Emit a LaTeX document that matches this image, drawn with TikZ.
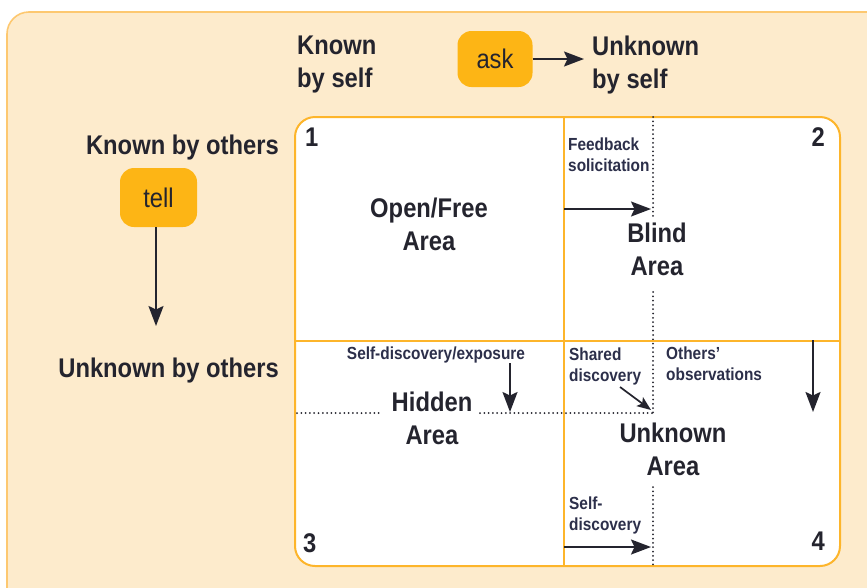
\documentclass[tikz,border=0pt]{standalone}
\usepackage{fontspec}
\setmainfont{Liberation Sans}[FakeStretch=0.88]
\usetikzlibrary{arrows.meta}
\definecolor{peach}{HTML}{FDEBCC}
\definecolor{outerline}{HTML}{FDC870}
\definecolor{gridline}{HTML}{FDB52B}
\definecolor{boxor}{HTML}{FDB515}
\definecolor{ink}{HTML}{24242E}
\definecolor{ink2}{HTML}{2C2F4A}
\newcommand\mybigf{\fontsize{27}{33}\selectfont\bfseries}
\newcommand\mysmallf{\fontsize{17.5}{21}\selectfont\bfseries}
\newcommand\myaskf{\fontsize{27}{33}\selectfont}
\begin{document}
\begin{tikzpicture}[x=1pt,y=-1pt,
  lab/.style={inner sep=0pt,text=ink,font=\mybigf,align=center},
  sidelab/.style={inner sep=0pt,text=ink,font=\mybigf},
  small/.style={inner sep=0pt,text=ink2,font=\mysmallf,align=left},
  arr/.style={draw=ink,line width=1.9pt,-{Stealth[length=20pt,width=15pt,inset=3.5pt]}},
  smallarr/.style={draw=ink,line width=1.7pt,-{Stealth[length=14pt,width=11pt,inset=3pt]}},
  dots/.style={draw=ink,line width=2pt,line cap=round,dash pattern=on 0pt off 4.3pt},
  keybox/.style={fill=boxor,rounded corners=14pt,minimum width=75pt,minimum height=56pt,inner sep=0pt,font=\myaskf,text=ink}]
\useasboundingbox (0,0) rectangle (867,587);
\clip (0,0) rectangle (867,587);
% background panel
\draw[fill=peach,draw=outerline,line width=1.6pt,rounded corners=22pt] (7,12) rectangle (920,640);
% grid
\draw[fill=white,draw=gridline,line width=2pt,rounded corners=20pt] (295,117) rectangle (840,566);
% dotted lines
\draw[dots] (653,117) -- (653,217);
\draw[dots] (653,292) -- (653,413);
\draw[dots] (653,487) -- (653,566);
\draw[dots] (297,413) -- (380,413);
\draw[dots] (480,413) -- (653,413);
% grid dividers
\draw[gridline,line width=2pt] (564,117) -- (564,566);
\draw[gridline,line width=2pt] (295,341) -- (840,341);
% header labels
\node[sidelab,align=left,anchor=north west] (kself) at (297,36) {Known\\by self};
\node[sidelab,align=left,anchor=north west] (uself) at (592,36) {Unknown\\by self};
\node[keybox] (ask) at (495,59) {ask};
\coordinate (askend) at (584,59);
\draw[arr] (ask.east) -- (askend);
\node[sidelab,anchor=north east] (kothers) at (279,135) {Known by others};
\node[sidelab,anchor=north east] (uothers) at (279,358) {Unknown by others};
\node[keybox,minimum width=77pt,minimum height=59pt] (tell) at (158.5,197.5) {tell};
\coordinate (tellend) at (156,326);
\draw[arr] (tell.south -| tellend) -- (tellend);
% numbers
\node[sidelab,anchor=north west] (n1) at (305,128) {1};
\node[sidelab,anchor=north east] (n2) at (825,127) {2};
\node[sidelab,anchor=north west] (n3) at (303,533) {3};
\node[sidelab,anchor=north east] (n4) at (825,532) {4};
% area labels
\node[lab,anchor=north] (open) at (429,198) {Open/Free\\Area};
\node[lab,anchor=north] (blind) at (657,223) {Blind\\Area};
\node[lab,anchor=north] (hidden) at (432,392) {Hidden\\Area};
\node[lab,anchor=north] (unknown) at (673,423) {Unknown\\Area};
% small labels
\node[small,anchor=north west] (feedback) at (568,138) {Feedback\\solicitation};
\node[small,anchor=north] (selfexp) at (436,347) {Self-discovery/exposure};
\node[small,anchor=north west] (shared) at (569,348) {Shared\\discovery};
\node[small,anchor=north west] (others) at (666,347) {Others'\\observations};
\node[small,anchor=north west] (selfdisc) at (569,497) {Self-\\discovery};
% arrows inside grid
\coordinate (fbs) at (564,209); \coordinate (fbe) at (651,209);
\draw[arr] (fbs) -- (fbe);
\coordinate (ses) at (510,363); \coordinate (see) at (510,412);
\draw[arr] (ses) -- (see);
\coordinate (shs) at (620,387); \coordinate (she) at (651,410);
\draw[smallarr] (shs) -- (she);
\coordinate (obs) at (813,340); \coordinate (obe) at (813,412);
\draw[arr] (obs) -- (obe);
\coordinate (sds) at (564,547); \coordinate (sde) at (651,547);
\draw[arr] (sds) -- (sde);
\end{tikzpicture}
\end{document}
